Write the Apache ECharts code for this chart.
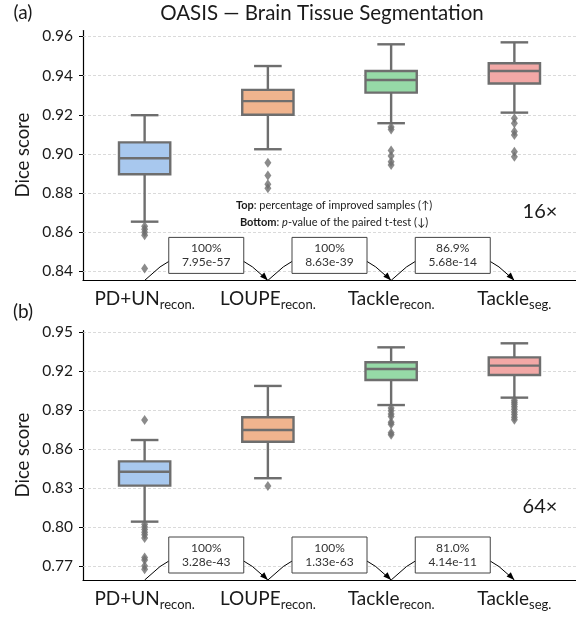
<!DOCTYPE html>
<html>
<head>
<meta charset="utf-8">
<script src="https://cdn.jsdelivr.net/npm/echarts@6/dist/echarts.min.js"></script>
<style>
html,body{margin:0;padding:0;background:#fff;}
#chart{width:576px;height:617px;}
</style>
</head>
<body>
<div id="chart"></div>
<script>
// ---------- data ----------
const categories = ['PD+UN', 'LOUPE', 'Tackle', 'Tackle'];
const subscripts = ['recon.', 'recon.', 'recon.', 'seg.'];

// [lower whisker, Q1, median, Q3, upper whisker]
const stats16 = [
  [0.8654, 0.8896, 0.8978, 0.9059, 0.9198],
  [0.9024, 0.9200, 0.9270, 0.9327, 0.9449],
  [0.9157, 0.9313, 0.9378, 0.9424, 0.9560],
  [0.9211, 0.9360, 0.9424, 0.9463, 0.9570]
];
const outliers16 = [
  [0.8630, 0.8615, 0.8600, 0.8585, 0.8415],
  [0.8955, 0.8890, 0.8845, 0.8825],
  [0.9138, 0.9125, 0.9018, 0.8990, 0.8960, 0.8943],
  [0.9182, 0.9157, 0.9114, 0.9097, 0.9011, 0.8986]
];
const stats64 = [
  [0.8041, 0.8318, 0.8425, 0.8505, 0.8669],
  [0.8375, 0.8656, 0.8746, 0.8844, 0.9085],
  [0.8938, 0.9131, 0.9215, 0.9267, 0.9382],
  [0.8995, 0.9169, 0.9241, 0.9305, 0.9413]
];
const outliers64 = [
  [0.8823, 0.8020, 0.8000, 0.7980, 0.7960, 0.7940, 0.7915, 0.7765, 0.7745, 0.7700, 0.7675],
  [0.8315],
  [0.8915, 0.8895, 0.8870, 0.8850, 0.8805, 0.8790, 0.8725, 0.8710],
  [0.8975, 0.8960, 0.8945, 0.8925, 0.8905, 0.8885, 0.8865, 0.8845, 0.8825]
];
const pct16 = ['100%', '100%', '86.9%'];
const pval16 = ['7.95e-57', '8.63e-39', '5.68e-14'];
const pct64 = ['100%', '100%', '81.0%'];
const pval64 = ['3.28e-43', '1.33e-63', '4.14e-11'];

const ticks16 = [0.84, 0.86, 0.88, 0.90, 0.92, 0.94, 0.96];
const ticks64 = [0.77, 0.80, 0.83, 0.86, 0.89, 0.92, 0.95];

// ---------- styles ----------
const FONT = 'Lato';
const TXT = '#1a1a1a';
const EDGE = '#6e6e6e';
const palette = ['#a8c8ee', '#f0b48e', '#96daa7', '#f2a8a6'];

const chart = echarts.init(document.getElementById('chart'), null, {renderer: 'canvas'});

function renderBox(params, api) {
  const i = api.value(0);
  const low = api.coord([i, api.value(1)]);
  const q1 = api.coord([i, api.value(2)]);
  const med = api.coord([i, api.value(3)]);
  const q3 = api.coord([i, api.value(4)]);
  const high = api.coord([i, api.value(5)]);
  const band = api.size([1, 0])[0];
  const bw = band * 0.416, cw = band * 0.224;
  const x = low[0];
  const st = {stroke: EDGE, lineWidth: 2.4, fill: null};
  return {type: 'group', children: [
    {type: 'line', shape: {x1: x, y1: high[1], x2: x, y2: q3[1]}, style: st},
    {type: 'line', shape: {x1: x, y1: q1[1], x2: x, y2: low[1]}, style: st},
    {type: 'line', shape: {x1: x - cw / 2, y1: high[1], x2: x + cw / 2, y2: high[1]}, style: st},
    {type: 'line', shape: {x1: x - cw / 2, y1: low[1], x2: x + cw / 2, y2: low[1]}, style: st},
    {type: 'rect', shape: {x: x - bw / 2, y: q3[1], width: bw, height: q1[1] - q3[1]},
      style: {fill: palette[i], stroke: EDGE, lineWidth: 2.4}},
    {type: 'line', shape: {x1: x - bw / 2, y1: med[1], x2: x + bw / 2, y2: med[1]}, style: st}
  ]};
}

function makeAnno(pcts, pvals) {
  return function (params, api) {
    const i = api.value(0);
    const v = api.value(1);
    const cs = params.coordSys;
    const yb = cs.y + cs.height;
    const x0 = api.coord([i, v])[0];
    const x1 = api.coord([i + 1, v])[0];
    const dx = x1 - x0;
    const h = 0.5 * dx;
    const cx = (x0 + x1) / 2, cy = yb - h;
    let tx = x1 - cx, ty = yb - cy;
    const len = Math.sqrt(tx * tx + ty * ty);
    tx /= len; ty /= len;
    const hl = 8, hw = 3;
    const bx = x1 - tx * hl, by = yb - ty * hl;
    const px = -ty, py = tx;
    const boxW = 75, boxH = 36, boxCy = yb - 25;
    return {type: 'group', children: [
      {type: 'bezierCurve', shape: {x1: x0, y1: yb, x2: x1, y2: yb, cpx1: cx, cpy1: cy},
        style: {stroke: '#000', lineWidth: 1, fill: null}},
      {type: 'polygon', shape: {points: [[x1, yb], [bx + px * hw, by + py * hw], [bx - px * hw, by - py * hw]]},
        style: {fill: '#000', stroke: null}},
      {type: 'rect', shape: {x: cx - boxW / 2, y: boxCy - boxH / 2, width: boxW, height: boxH},
        style: {fill: '#fff', stroke: '#444', lineWidth: 1}},
      {type: 'text', x: cx, y: boxCy, style: {text: pcts[params.dataIndex] + '\n' + pvals[params.dataIndex],
        align: 'center', verticalAlign: 'middle', fontSize: 12, fontFamily: FONT, fill: '#333', lineHeight: 14}}
    ]};
  };
}

function yAxisCfg(gi, mn, mx, ticks) {
  return {
    gridIndex: gi, type: 'value', min: mn, max: mx,
    axisLine: {show: true, lineStyle: {color: '#000', width: 1.2}},
    axisTick: {show: true, length: 4, customValues: ticks, lineStyle: {color: '#000', width: 1}},
    axisLabel: {customValues: ticks, formatter: v => v.toFixed(2), fontSize: 15.5, fontFamily: FONT, color: TXT, margin: 10},
    splitLine: {show: false}
  };
}
function xAxisCfg(gi) {
  return {
    gridIndex: gi, type: 'category', boundaryGap: true,
    data: categories.map((c, i) => c + '_' + subscripts[i]),
    axisLine: {lineStyle: {color: '#000', width: 1.2}},
    axisTick: {alignWithLabel: true, length: 4, lineStyle: {color: '#000'}},
    axisLabel: {
      margin: 6, interval: 0,
      formatter: v => { const p = v.split('_'); return '{m|' + p[0] + '}{s|' + p[1] + '}'; },
      rich: {
        m: {fontSize: 19, fontFamily: FONT, color: TXT},
        s: {fontSize: 13, fontFamily: FONT, color: TXT, padding: [12, 0, 0, 0]}
      }
    }
  };
}
function gridLines(ticks) {
  return {silent: true, symbol: 'none', z: 1, label: {show: false},
    lineStyle: {color: '#d0d0d0', type: [3, 2], width: 0.8},
    emphasis: {disabled: true},
    data: ticks.map(v => ({yAxis: v}))};
}
function outlierData(out) {
  const d = [];
  out.forEach((arr, i) => arr.forEach(v => d.push([i, v])));
  return d;
}

const option = {
  animation: false,
  grid: [
    {left: 83, top: 30.6, width: 500, height: 249.8},
    {left: 83, top: 330.7, width: 500, height: 249.3}
  ],
  xAxis: [xAxisCfg(0), xAxisCfg(1)],
  yAxis: [yAxisCfg(0, 0.8354, 0.963, ticks16), yAxisCfg(1, 0.7592, 0.951, ticks64)],
  series: [
    {type: 'custom', xAxisIndex: 0, yAxisIndex: 0, z: 3, renderItem: renderBox,
      data: stats16.map((s, i) => [i].concat(s)), encode: {x: 0, y: [1, 2, 3, 4, 5]},
      markLine: gridLines(ticks16)},
    {type: 'scatter', xAxisIndex: 0, yAxisIndex: 0, z: 4, symbol: 'diamond', symbolSize: [7, 10],
      itemStyle: {color: EDGE}, data: outlierData(outliers16)},
    {type: 'custom', xAxisIndex: 0, yAxisIndex: 0, z: 5, renderItem: makeAnno(pct16, pval16),
      data: pct16.map((_, i) => [i, 0.9]), encode: {x: 0, y: 1}},
    {type: 'custom', xAxisIndex: 1, yAxisIndex: 1, z: 3, renderItem: renderBox,
      data: stats64.map((s, i) => [i].concat(s)), encode: {x: 0, y: [1, 2, 3, 4, 5]},
      markLine: gridLines(ticks64)},
    {type: 'scatter', xAxisIndex: 1, yAxisIndex: 1, z: 4, symbol: 'diamond', symbolSize: [7, 10],
      itemStyle: {color: EDGE}, data: outlierData(outliers64)},
    {type: 'custom', xAxisIndex: 1, yAxisIndex: 1, z: 5, renderItem: makeAnno(pct64, pval64),
      data: pct64.map((_, i) => [i, 0.85]), encode: {x: 0, y: 1}}
  ],
  graphic: [
    {type: 'text', x: 322, y: 13, style: {text: 'OASIS — Brain Tissue Segmentation', align: 'center', verticalAlign: 'middle',
      fontSize: 20.5, fontFamily: FONT, fill: TXT}},
    {type: 'text', x: 23, y: 13, style: {text: '(a)', align: 'center', verticalAlign: 'middle', fontSize: 19, fontFamily: FONT, fill: TXT}},
    {type: 'text', x: 23, y: 312, style: {text: '(b)', align: 'center', verticalAlign: 'middle', fontSize: 19, fontFamily: FONT, fill: TXT}},
    {type: 'text', x: 23, y: 155, rotation: Math.PI / 2, style: {text: 'Dice score', align: 'center', verticalAlign: 'middle',
      fontSize: 18.5, fontFamily: FONT, fill: TXT}},
    {type: 'text', x: 23, y: 455, rotation: Math.PI / 2, style: {text: 'Dice score', align: 'center', verticalAlign: 'middle',
      fontSize: 18.5, fontFamily: FONT, fill: TXT}},
    {type: 'text', x: 334, y: 213.5, z: 10, style: {
      text: '{b|Top}: percentage of improved samples (↑)\n{b|Bottom}: {i|p}-value of the paired t-test (↓)',
      align: 'center', verticalAlign: 'middle', fontSize: 11, fontFamily: FONT, fill: TXT, lineHeight: 17,
      rich: {b: {fontWeight: 'bold', fontSize: 11, fontFamily: FONT, fill: TXT}, i: {fontStyle: 'italic', fontSize: 11, fontFamily: FONT, fill: TXT}}}},
    {type: 'text', x: 540, y: 212, style: {text: '16×', align: 'center', verticalAlign: 'middle', fontSize: 20, fontFamily: FONT, fill: TXT}},
    {type: 'text', x: 540, y: 507, style: {text: '64×', align: 'center', verticalAlign: 'middle', fontSize: 20, fontFamily: FONT, fill: TXT}}
  ]
};
chart.setOption(option);
</script>
</body>
</html>
